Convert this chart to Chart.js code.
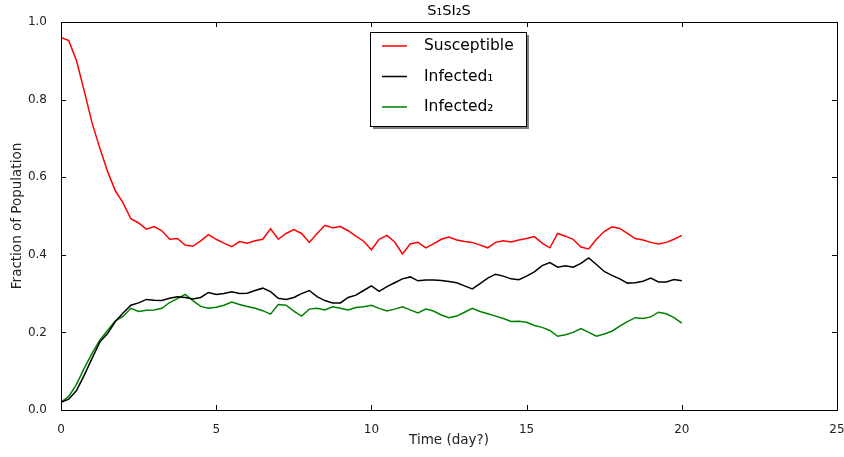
<!DOCTYPE html>
<html>
<head>
<meta charset="utf-8">
<script src="https://cdn.jsdelivr.net/npm/chart.js@4.4.0/dist/chart.umd.min.js"></script>
<style>
  html, body { margin: 0; padding: 0; background: #fff; }
  #wrap { width: 844px; height: 457px; }
</style>
</head>
<body>
<div id="wrap"><canvas id="sisChart" width="844" height="457"></canvas></div>
<script>
const days = [];
for (let i = 0; i <= 80; i++) days.push(i * 0.25);

const susceptible = [
  0.960, 0.952, 0.900, 0.822, 0.740, 0.675, 0.615, 0.565, 0.534, 0.493,
  0.482, 0.466, 0.473, 0.462, 0.440, 0.442, 0.425, 0.422, 0.436, 0.452,
  0.440, 0.430, 0.421, 0.434, 0.430, 0.436, 0.440, 0.467, 0.440, 0.455,
  0.465, 0.455, 0.432, 0.455, 0.476, 0.470, 0.473, 0.462, 0.448, 0.435,
  0.413, 0.440, 0.450, 0.433, 0.402, 0.428, 0.432, 0.418, 0.428, 0.440,
  0.446, 0.438, 0.434, 0.432, 0.425, 0.418, 0.432, 0.436, 0.433, 0.438,
  0.442, 0.447, 0.430, 0.418, 0.455, 0.448, 0.440, 0.420, 0.415, 0.440,
  0.460, 0.472, 0.468, 0.455, 0.442, 0.438, 0.432, 0.428, 0.432, 0.440,
  0.450
];

const infected1 = [
  0.020, 0.028, 0.050, 0.090, 0.133, 0.175, 0.197, 0.228, 0.250, 0.270,
  0.276, 0.285, 0.283, 0.282, 0.288, 0.292, 0.290, 0.286, 0.290, 0.303,
  0.298, 0.300, 0.305, 0.300, 0.301, 0.308, 0.314, 0.305, 0.288, 0.285,
  0.290, 0.300, 0.308, 0.292, 0.282, 0.276, 0.276, 0.290, 0.296, 0.308,
  0.320, 0.306, 0.318, 0.328, 0.338, 0.343, 0.333, 0.335, 0.335, 0.334,
  0.331, 0.328, 0.320, 0.312, 0.326, 0.340, 0.350, 0.345, 0.338, 0.336,
  0.345, 0.356, 0.372, 0.380, 0.368, 0.372, 0.368, 0.378, 0.392, 0.375,
  0.357, 0.347, 0.338, 0.327, 0.328, 0.332, 0.340, 0.330, 0.330, 0.336,
  0.333
];

const infected2 = [
  0.020, 0.035, 0.066, 0.108, 0.146, 0.180, 0.205, 0.230, 0.241, 0.262,
  0.254, 0.257, 0.258, 0.262, 0.277, 0.287, 0.298, 0.282, 0.267, 0.262,
  0.265, 0.270, 0.278, 0.272, 0.267, 0.262, 0.256, 0.247, 0.272, 0.270,
  0.255, 0.242, 0.260, 0.262, 0.258, 0.266, 0.262, 0.258, 0.264, 0.266,
  0.270, 0.262, 0.255, 0.260, 0.266, 0.258, 0.250, 0.260, 0.255, 0.245,
  0.238, 0.242, 0.252, 0.262, 0.254, 0.248, 0.242, 0.236, 0.228, 0.229,
  0.226, 0.218, 0.213, 0.205, 0.190, 0.194, 0.200, 0.210, 0.200, 0.190,
  0.196, 0.203, 0.216, 0.228, 0.238, 0.236, 0.240, 0.252, 0.248, 0.238,
  0.224
];

const seriesNames = ['Susceptible', 'Infected\u2081', 'Infected\u2082'];
const seriesColors = ['#ff0000', '#000000', '#008000'];
const xTicks = [0, 5, 10, 15, 20, 25];
const yTicks = [0.0, 0.2, 0.4, 0.6, 0.8, 1.0];
const chartTitle = 'S\u2081SI\u2082S';

const FONT = '"DejaVu Sans", sans-serif';

function toPoints(vals) {
  return vals.map((v, i) => ({ x: days[i], y: v }));
}

// frame, inward ticks on all sides, title and boxed legend
const framePlugin = {
  id: 'frame',
  afterDraw(chart) {
    const { ctx, chartArea: a, scales } = chart;
    ctx.save();
    ctx.strokeStyle = '#000';
    ctx.lineWidth = 1;
    ctx.strokeRect(Math.round(a.left) + 0.5, Math.round(a.top) + 0.5,
      Math.round(a.right - a.left), Math.round(a.bottom - a.top));

    ctx.beginPath();
    xTicks.forEach(v => {
      const px = Math.round(scales.x.getPixelForValue(v)) + 0.5;
      ctx.moveTo(px, a.bottom); ctx.lineTo(px, a.bottom - 5);
      ctx.moveTo(px, a.top); ctx.lineTo(px, a.top + 5);
    });
    yTicks.forEach(v => {
      const py = Math.round(scales.y.getPixelForValue(v)) + 0.5;
      ctx.moveTo(a.left, py); ctx.lineTo(a.left + 5, py);
      ctx.moveTo(a.right, py); ctx.lineTo(a.right - 5, py);
    });
    ctx.stroke();

    // title
    ctx.fillStyle = '#000';
    ctx.font = '14.5px ' + FONT;
    ctx.textAlign = 'center';
    ctx.textBaseline = 'middle';
    ctx.fillText(chartTitle, (a.left + a.right) / 2, 11);

    // legend
    const lx = 370, ly = 32, lw = 156, lh = 94;
    ctx.fillStyle = '#7f7f7f';
    ctx.fillRect(lx + 3, ly + 3, lw, lh);
    ctx.fillStyle = '#fff';
    ctx.fillRect(lx, ly, lw, lh);
    ctx.strokeStyle = '#000';
    ctx.strokeRect(lx + 0.5, ly + 0.5, lw, lh);
    ctx.font = '15.5px ' + FONT;
    ctx.textAlign = 'left';
    chart.data.datasets.forEach((ds, i) => {
      const y = 46 + i * 30.5;
      ctx.strokeStyle = ds.borderColor;
      ctx.lineWidth = 1.5;
      ctx.beginPath();
      ctx.moveTo(382, y); ctx.lineTo(407, y);
      ctx.stroke();
      ctx.fillStyle = '#000';
      ctx.fillText(ds.label, 424, y);
    });
    ctx.restore();
  }
};

const ctx = document.getElementById('sisChart').getContext('2d');

new Chart(ctx, {
  type: 'line',
  data: {
    datasets: [susceptible, infected1, infected2].map((vals, i) => ({
      label: seriesNames[i],
      data: toPoints(vals),
      borderColor: seriesColors[i],
      borderWidth: 1.5,
      pointRadius: 0,
      tension: 0,
      fill: false
    }))
  },
  options: {
    responsive: false,
    animation: false,
    layout: { padding: { top: 22, right: 0, left: 0, bottom: 0 } },
    plugins: {
      legend: { display: false },
      title: { display: false },
      tooltip: { enabled: false }
    },
    scales: {
      x: {
        type: 'linear',
        min: 0,
        max: 25,
        grid: { display: false },
        border: { display: false },
        afterBuildTicks: s => { s.ticks = xTicks.map(v => ({ value: v })); },
        afterFit: s => { s.height = 47; s.paddingRight = 7; },
        ticks: {
          color: '#222',
          font: { family: FONT, size: 12 },
          padding: 5,
          maxRotation: 0,
          callback: v => String(v)
        },
        title: {
          display: true,
          text: 'Time (day?)',
          color: '#222',
          font: { family: FONT, size: 13.5 },
          padding: { top: 0, bottom: 8 }
        }
      },
      y: {
        min: 0,
        max: 1,
        grid: { display: false },
        border: { display: false },
        afterBuildTicks: s => { s.ticks = yTicks.map(v => ({ value: v })); },
        afterFit: s => { s.width = 61; },
        ticks: {
          color: '#222',
          font: { family: FONT, size: 12 },
          padding: 6,
          callback: v => v.toFixed(1)
        },
        title: {
          display: true,
          text: 'Fraction of Population',
          color: '#222',
          font: { family: FONT, size: 13.5 },
          padding: { top: 9, bottom: 0 }
        }
      }
    }
  },
  plugins: [framePlugin]
});
</script>
</body>
</html>
